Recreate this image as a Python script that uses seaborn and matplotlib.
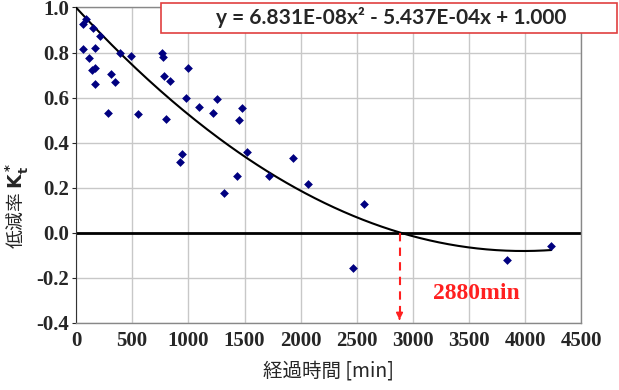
import numpy as np
import pandas as pd
import matplotlib
matplotlib.use("Agg")
import matplotlib.pyplot as plt
from matplotlib.patches import Rectangle
import seaborn as sns

# ==========================================
# data
# ==========================================
elapsed_min = [61, 90, 151, 211, 66, 169, 120, 145, 169, 169,
               314, 350, 392, 488, 283, 549, 766, 771, 784, 838,
               995, 983, 802, 1097, 1218, 1254, 1447, 1476, 940, 929,
               1320, 1429, 1519, 1718, 1935, 2068, 2562, 2466, 3834, 4231]
kt_ratio = [0.927, 0.948, 0.909, 0.874, 0.815, 0.818, 0.777, 0.724, 0.733, 0.662,
            0.703, 0.668, 0.800, 0.783, 0.530, 0.527, 0.798, 0.780, 0.694, 0.674,
            0.733, 0.600, 0.503, 0.559, 0.530, 0.595, 0.500, 0.553, 0.347, 0.315,
            0.177, 0.253, 0.359, 0.253, 0.332, 0.218, 0.129, -0.159, -0.121, -0.059]

# trendline coefficients as printed on the chart
coef_a, coef_b, coef_c = 6.831e-08, -5.437e-04, 1.000
zero_cross = 2880

xticks = [0, 500, 1000, 1500, 2000, 2500, 3000, 3500, 4000, 4500]
yticks = [-0.4, -0.2, 0.0, 0.2, 0.4, 0.6, 0.8, 1.0]

df = pd.DataFrame({"t": elapsed_min, "kt": kt_ratio})
t_fit = np.linspace(0, max(elapsed_min), 200)
fit = pd.DataFrame({"t": t_fit, "kt": coef_a * t_fit ** 2 + coef_b * t_fit + coef_c})

# ==========================================
# plot
# ==========================================
sns.set_style("white")
plt.rcParams['font.family'] = ['Noto Sans CJK JP', 'DejaVu Sans']

fig = plt.figure(figsize=(6.19, 3.90), dpi=100)
ax = fig.add_axes([0.1228, 0.1728, 0.8166, 0.8080])

sns.lineplot(data=fit, x="t", y="kt", color="black", linewidth=1.5, ax=ax, zorder=3)
sns.scatterplot(data=df, x="t", y="kt", marker="D", s=20, color="#000080",
                edgecolor="#000080", linewidth=0, ax=ax, zorder=4)

ax.axhline(0, color="black", linewidth=2, zorder=2)

# red dashed arrow down to the x axis
ax.plot([zero_cross, zero_cross], [0, -0.37], color="#ff2020", linestyle=(0, (4, 3)),
        linewidth=1.5, zorder=3)
ax.annotate("", xy=(zero_cross, -0.4), xytext=(zero_cross, -0.37),
            arrowprops=dict(arrowstyle="-|>", color="#ff2020", lw=1.2, mutation_scale=10))
ax.text(3560, -0.27, f"{zero_cross}min", color="#ff2020", fontsize=17, fontweight="bold",
        family="Liberation Serif", ha="center", va="center")

ax.set_xlim(0, 4500)
ax.set_ylim(-0.4, 1.0)
ax.set_xticks(xticks)
ax.set_yticks(yticks)
ax.set_yticklabels([f"{v:.1f}" for v in yticks])
for lab in ax.get_xticklabels() + ax.get_yticklabels():
    lab.set_family("Liberation Serif")
    lab.set_fontweight("bold")
    lab.set_fontsize(15)
ax.tick_params(axis="y", length=3, width=0.8, pad=2, direction="out", left=True)
ax.tick_params(axis="x", length=0, pad=6)

ax.grid(True, color="#c8c8c8", linewidth=1)
ax.set_axisbelow(True)
for side in ["top", "right", "bottom"]:
    ax.spines[side].set_color("#888888")
    ax.spines[side].set_linewidth(1)
ax.spines["left"].set_color("#333333")

ax.set_xlabel("経過時間 [min]", fontsize=14, labelpad=7)
ax.set_ylabel("")
ax.text(-0.118, 0.37, "低減率 $\\mathbf{K_t^*}$", rotation=90, fontsize=13.5,
        ha="center", va="center", transform=ax.transAxes)

# equation box
fig.patches.append(Rectangle((161 / 619, 1 - 33 / 390), 456 / 619, 30 / 390,
                             transform=fig.transFigure, facecolor="white",
                             edgecolor="#e04040", linewidth=1.2, zorder=5))
fig.text(391 / 619, 1 - 18 / 390, "y = 6.831E-08x² - 5.437E-04x + 1.000",
         fontsize=15, fontweight="bold", family="Lato", ha="center", va="center", zorder=6)

plt.savefig("out.png", dpi=100)
plt.close()
